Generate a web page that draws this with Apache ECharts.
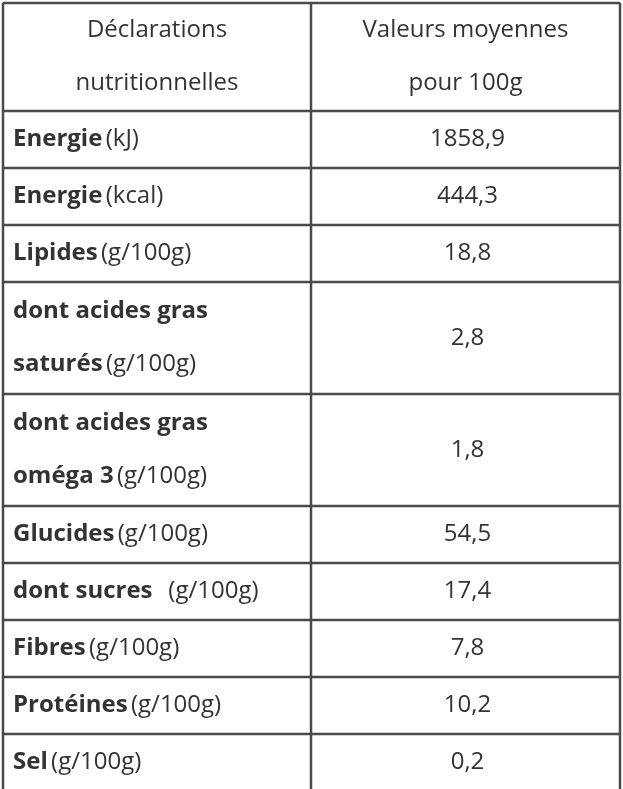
<!DOCTYPE html><html><head><meta charset="utf-8">
<script src="https://cdn.jsdelivr.net/npm/echarts@6/dist/echarts.min.js"></script>
<style>html,body{margin:0;background:#fff}#c{width:623px;height:789px}</style></head><body><div id="c"></div>
<script>
const headers=["Déclarations\nnutritionnelles","Valeurs moyennes\npour 100g"];
const labelBold=["Energie","Energie","Lipides","dont acides gras\nsaturés","dont acides gras\noméga 3","Glucides","dont sucres","Fibres","Protéines","Sel"];
const labelUnit=["(kJ)","(kcal)","(g/100g)","(g/100g)","(g/100g)","(g/100g)","  (g/100g)","(g/100g)","(g/100g)","(g/100g)"];
const values=["1858,9","444,3","18,8","2,8","1,8","54,5","17,4","7,8","10,2","0,2"];
const rowLines=[1,1,1,2,2,1,1,1,1,1];

(function(){
const L=3,R=620,M=311,T0=3,headH=108,lineH=55,rowPad=2;
const g=[];const font='"Open Sans"';const col='#333';
let y=T0;
g.push({type:'text',style:{text:headers[0],x:(L+M)/2,y:T0+headH/2,align:'center',verticalAlign:'middle',font:'24px '+font,fill:col,lineHeight:53}});
g.push({type:'text',style:{text:headers[1],x:(M+R)/2,y:T0+headH/2,align:'center',verticalAlign:'middle',font:'24px '+font,fill:col,lineHeight:53}});
y+=headH;
const ys=[T0,y];
labelBold.forEach((b,i)=>{
  const h=rowLines[i]*lineH+rowPad;
  let t;
  if(rowLines[i]==2){const p=b.split('\n');t='{b|'+p[0]+'}\n{b|'+p[1]+'} {n|'+labelUnit[i]+'}';}
  else t='{b|'+b+'} {n|'+labelUnit[i]+'}';
  g.push({type:'text',style:{text:t,x:L+10,y:y+h/2,verticalAlign:'middle',rich:{b:{font:'bold 24px '+font,fill:col,lineHeight:53},n:{font:'24px '+font,fill:col,lineHeight:53}}}});
  g.push({type:'text',style:{text:values[i],x:(M+R)/2+2,y:y+h/2,align:'center',verticalAlign:'middle',font:'24px '+font,fill:col}});
  y+=h;ys.push(y);
});
const ln={stroke:'#4a4a4a',lineWidth:2.5};
ys.forEach(v=>g.push({type:'line',shape:{x1:L,y1:v,x2:R,y2:v},style:ln}));
[L,M,R].forEach(v=>g.push({type:'line',shape:{x1:v,y1:T0,x2:v,y2:ys[ys.length-1]},style:ln}));
const c=echarts.init(document.getElementById('c'));
c.setOption({graphic:g});
})();
</script></body></html>
